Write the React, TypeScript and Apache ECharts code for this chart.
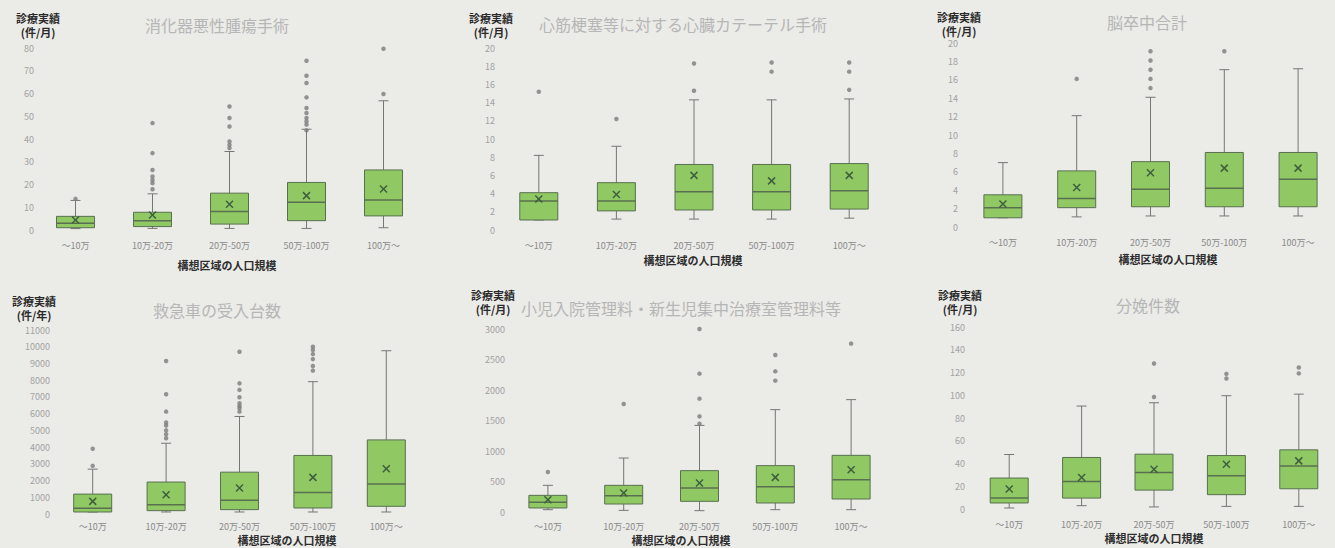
import React, { useEffect, useRef } from "react";
import * as echarts from "echarts";

// ---- data ----
const categories = ["～10万", "10万-20万", "20万-50万", "50万-100万", "100万～"];

const titles = [
  "消化器悪性腫瘍手術",
  "心筋梗塞等に対する心臓カテーテル手術",
  "脳卒中合計",
  "救急車の受入台数",
  "小児入院管理料・新生児集中治療室管理料等",
  "分娩件数",
];
const yUnits = ["(件/月)", "(件/月)", "(件/月)", "(件/年)", "(件/月)", "(件/月)"];
const yMaxes = [80, 20, 20, 11000, 3000, 160];
const yIntervals = [10, 2, 2, 1000, 500, 20];

// [min, Q1, median, Q3, max]
const boxes1 = [[0.6, 1, 3, 6, 13], [0.7, 1.5, 4.1, 7.8, 15.9], [0.7, 2.6, 8.1, 16.2, 34.5], [0.7, 4.1, 12.2, 20.9, 44.3], [1, 6.2, 13.2, 26.4, 56.8]];
const means1 = [4.4, 6.6, 11.3, 15.1, 18];
const outliers1 = [[13.7], [47, 33.8, 26.4, 23.5, 22, 20.6, 17.9], [54.3, 49.2, 45.5, 38.9, 37.4, 36], [74.4, 67.8, 64.6, 58.3, 53.6, 51.4, 49.2, 47.7, 46.3, 43.8], [79.7, 59.8]];

const boxes2 = [[1.1, 1.1, 3.2, 4.1, 8.2], [1.2, 2.1, 3.2, 5.2, 9.2], [1.2, 2.2, 4.2, 7.2, 14.3], [1.2, 2.2, 4.2, 7.2, 14.3], [1.3, 2.3, 4.3, 7.3, 14.4]];
const means2 = [3.4, 3.9, 6.0, 5.4, 6.0];
const outliers2 = [[15.2], [12.2], [18.3, 15.3], [18.4, 17.4], [18.4, 17.4, 15.4]];

const boxes3 = [[1, 1, 2.1, 3.5, 7], [1.1, 2.1, 3.1, 6.1, 12.1], [1.2, 2.2, 4.1, 7.1, 14.1], [1.2, 2.2, 4.2, 8.1, 17.1], [1.2, 2.2, 5.2, 8.1, 17.2]];
const means3 = [2.5, 4.3, 5.9, 6.4, 6.4];
const outliers3 = [[], [16.1], [19.1, 18.1, 17.1, 16.1, 15.1], [19.1], []];

const boxes4 = [[120, 120, 340, 1190, 2680], [120, 200, 560, 1910, 4230], [120, 260, 815, 2500, 5830], [120, 360, 1290, 3500, 7910], [120, 460, 1790, 4430, 9760]];
const means4 = [755, 1150, 1550, 2190, 2700];
const outliers4 = [[3900, 2880], [9150, 7160, 6120, 5470, 5290, 5000, 4770, 4530], [9700, 7810, 7420, 6980, 6620, 6460, 6320, 6120], [10000, 9800, 9560, 9260, 8850, 8570], []];

const boxes5 = [[38, 66, 158, 273, 437], [27, 131, 268, 437, 885], [22, 175, 393, 678, 1420], [38, 148, 415, 760, 1678], [38, 213, 530, 929, 1842]];
const means5 = [202, 311, 475, 568, 694];
const outliers5 = [[656], [1770], [3000, 2268, 1858, 1568, 1448], [2574, 2306, 2153], [2760]];

const boxes6 = [[0.9, 5.3, 9.6, 27.2, 47.9], [2.9, 9.6, 24.2, 45.3, 90.5], [1.8, 16.6, 32.1, 48.2, 93.4], [2.3, 12.6, 29.2, 47.0, 99.6], [2.3, 17.8, 37.7, 52.0, 101]];
const means6 = [17.5, 27.7, 35, 39.4, 42.3];
const outliers6 = [[], [], [127.9, 98.4], [118.8, 114.7], [124.4, 119.2]];

const allBoxes = [boxes1, boxes2, boxes3, boxes4, boxes5, boxes6];
const allMeans = [means1, means2, means3, means4, means5, means6];
const allOutliers = [outliers1, outliers2, outliers3, outliers4, outliers5, outliers6];

// ---- layout ----
const grids = [
  { left: 37, top: 48, width: 385, height: 182 },
  { left: 500, top: 48, width: 388, height: 182 },
  { left: 966, top: 43, width: 388, height: 184 },
  { left: 56, top: 330, width: 367, height: 184 },
  { left: 510, top: 329, width: 379, height: 183 },
  { left: 973, top: 327, width: 380, height: 182 },
];
const titlePos = [[217, 25], [683, 24], [1147, 22], [217, 310], [681, 308], [1148, 305]];
const yNamePos = [[38, 11], [491, 11], [959, 10], [34, 294], [493, 288], [960, 288]];
const xNamePos = [[227, 265], [693, 260], [1168, 259], [287, 540], [681, 540], [1154, 538]];
const yLabelMargins = [3, 5, 8, 6, 5, 8];
const xLabelMargins = [11, 11, 11, 8, 10, 11];

const FONT = "'Noto Sans CJK JP', 'Noto Sans', sans-serif";
const BOX_FILL = "#90c963";
const BOX_STROKE = "#58704f";
const WHISKER = "#767676";
const MEAN = "#3f5f40";

export default function App() {
  const ref = useRef<HTMLDivElement>(null);

  useEffect(() => {
    if (!ref.current) return;
    const chart = echarts.init(ref.current, null, { renderer: "svg" });

    const renderBox = (params: any, api: any) => {
      const x = api.value(0);
      const lo = api.coord([x, api.value(1)]);
      const q1 = api.coord([x, api.value(2)]);
      const med = api.coord([x, api.value(3)]);
      const q3 = api.coord([x, api.value(4)]);
      const hi = api.coord([x, api.value(5)]);
      const mn = api.coord([x, api.value(6)]);
      const cx = q1[0];
      const hw = 19;
      const cap = 5;
      const m = 3.5;
      const ls = { stroke: WHISKER, lineWidth: 1 };
      return {
        type: "group",
        children: [
          { type: "line", shape: { x1: cx, y1: hi[1], x2: cx, y2: q3[1] }, style: ls },
          { type: "line", shape: { x1: cx, y1: q1[1], x2: cx, y2: lo[1] }, style: ls },
          { type: "line", shape: { x1: cx - cap, y1: hi[1], x2: cx + cap, y2: hi[1] }, style: ls },
          { type: "line", shape: { x1: cx - cap, y1: lo[1], x2: cx + cap, y2: lo[1] }, style: ls },
          {
            type: "rect",
            shape: { x: cx - hw, y: q3[1], width: hw * 2, height: q1[1] - q3[1] },
            style: { fill: BOX_FILL, stroke: BOX_STROKE, lineWidth: 1 },
          },
          { type: "line", shape: { x1: cx - hw, y1: med[1], x2: cx + hw, y2: med[1] }, style: { stroke: BOX_STROKE, lineWidth: 1.5 } },
          { type: "line", shape: { x1: mn[0] - m, y1: mn[1] - m, x2: mn[0] + m, y2: mn[1] + m }, style: { stroke: MEAN, lineWidth: 1.5 } },
          { type: "line", shape: { x1: mn[0] - m, y1: mn[1] + m, x2: mn[0] + m, y2: mn[1] - m }, style: { stroke: MEAN, lineWidth: 1.5 } },
        ],
      };
    };

    const gridOpt: any[] = [];
    const xAxes: any[] = [];
    const yAxes: any[] = [];
    const series: any[] = [];
    const graphics: any[] = [];

    for (let i = 0; i < 6; i++) {
      gridOpt.push({ ...grids[i], containLabel: false });
      xAxes.push({
        type: "category",
        gridIndex: i,
        data: categories,
        axisLine: { show: false },
        axisTick: { show: false },
        splitLine: { show: false },
        axisLabel: { color: "#8a8a8a", fontSize: 9, margin: xLabelMargins[i], fontFamily: FONT, interval: 0 },
      });
      yAxes.push({
        type: "value",
        gridIndex: i,
        min: 0,
        max: yMaxes[i],
        interval: yIntervals[i],
        axisLine: { show: false },
        axisTick: { show: false },
        splitLine: { show: false },
        axisLabel: {
          color: "#a2a2a2",
          fontSize: 9,
          margin: yLabelMargins[i],
          fontFamily: FONT,
          formatter: (v: number) => String(v),
        },
      });
      const boxData = allBoxes[i].map((b, k) => [k, b[0], b[1], b[2], b[3], b[4], allMeans[i][k]]);
      series.push({
        type: "custom",
        xAxisIndex: i,
        yAxisIndex: i,
        renderItem: renderBox,
        encode: { x: 0, y: [1, 2, 3, 4, 5] },
        data: boxData,
        z: 2,
      });
      const outData: number[][] = [];
      allOutliers[i].forEach((vals, k) => vals.forEach((v) => outData.push([k, v])));
      series.push({
        type: "scatter",
        xAxisIndex: i,
        yAxisIndex: i,
        symbol: "circle",
        symbolSize: 4.5,
        itemStyle: { color: "#7c7c7c" },
        data: outData,
        z: 3,
      });
      graphics.push({
        type: "text",
        x: titlePos[i][0],
        y: titlePos[i][1],
        style: {
          text: titles[i],
          fill: "#b6b6b6",
          fontSize: 16,
          fontFamily: FONT,
          align: "center",
          verticalAlign: "middle",
        },
      });
      graphics.push({
        type: "text",
        x: yNamePos[i][0],
        y: yNamePos[i][1],
        style: {
          text: "診療実績\n" + yUnits[i],
          fill: "#2a2a2a",
          fontSize: 11,
          fontWeight: "bold",
          lineHeight: 14,
          fontFamily: FONT,
          align: "center",
          verticalAlign: "top",
        },
      });
      graphics.push({
        type: "text",
        x: xNamePos[i][0],
        y: xNamePos[i][1],
        style: {
          text: "構想区域の人口規模",
          fill: "#2e2e2e",
          fontSize: 11,
          fontWeight: "bold",
          fontFamily: FONT,
          align: "center",
          verticalAlign: "middle",
        },
      });
    }

    chart.setOption({
      animation: false,
      backgroundColor: "#ebebe8",
      textStyle: { fontFamily: FONT },
      grid: gridOpt,
      xAxis: xAxes,
      yAxis: yAxes,
      series,
      graphic: graphics,
    });

    return () => chart.dispose();
  }, []);

  return (
    <div
      ref={ref}
      style={{ position: "absolute", left: 0, top: 0, width: 1335, height: 548, background: "#ebebe8" }}
    />
  );
}
